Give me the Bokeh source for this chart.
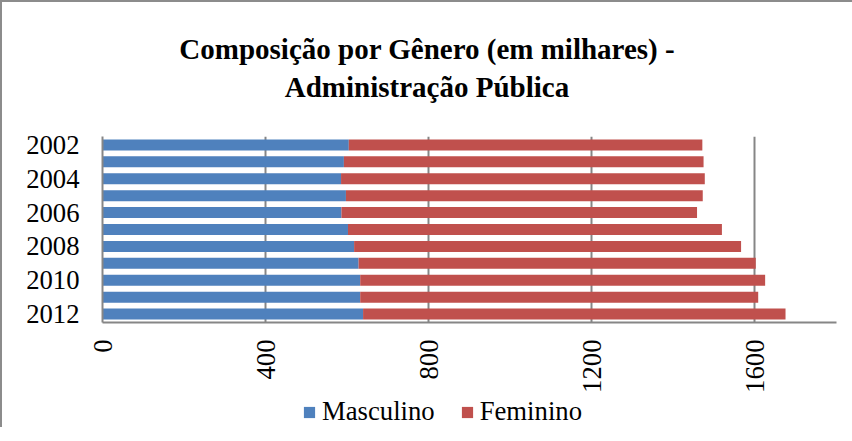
from bokeh.plotting import figure
from bokeh.models import (ColumnDataSource, Range1d, FixedTicker, Legend,
                          LegendItem, Div)
from bokeh.layouts import column
from bokeh.embed import file_html
from bokeh.resources import INLINE
import math

years = [2002, 2003, 2004, 2005, 2006, 2007, 2008, 2009, 2010, 2011, 2012]
masculino = [604, 592, 585, 597, 586, 602, 617, 628, 632, 632, 639]
feminino = [867, 882, 892, 875, 872, 917, 949, 974, 993, 976, 1036]
x_ticks = [0, 400, 800, 1200, 1600]
y_ticks = [2002, 2004, 2006, 2008, 2010, 2012]
series_names = ["Masculino", "Feminino"]
series_colors = ["#4F81BD", "#C0504D"]
title_lines = ["Composição por Gênero (em milhares) -", "Administração Pública"]

total = [m + f for m, f in zip(masculino, feminino)]
src = ColumnDataSource(dict(y=years, m=masculino, zero=[0] * len(years), t=total))

FONT = "Liberation Serif"
FS = "26.7px"
GRID = "#868686"
W = 840

title = Div(text="<br>".join(title_lines), width=W, height=102,
            styles={"text-align": "center", "font-family": FONT,
                    "font-weight": "bold", "font-size": "29px",
                    "line-height": "38px", "color": "black",
                    "padding-top": "23px", "box-sizing": "border-box",
                    "width": f"{W}px"})

p = figure(frame_width=734, frame_height=186, output_backend="svg",
           toolbar_location=None,
           x_range=Range1d(0, 1800), y_range=Range1d(2012.5, 2001.5),
           min_border_left=100, min_border_right=6, min_border_top=22,
           min_border_bottom=72)
p.outline_line_color = None

r1 = p.hbar(y="y", left="zero", right="m", height=0.65, source=src,
            fill_color=series_colors[0], line_color=None)
r2 = p.hbar(y="y", left="m", right="t", height=0.65, source=src,
            fill_color=series_colors[1], line_color=None)

p.xaxis.ticker = FixedTicker(ticks=x_ticks)
p.xaxis.major_label_orientation = math.pi / 2
p.xaxis.major_label_text_font = FONT
p.xaxis.major_label_text_font_size = FS
p.xaxis.major_label_text_color = "black"
p.xaxis.major_label_standoff = 17
p.xaxis.major_tick_out = 0
p.xaxis.major_tick_in = 0
p.xaxis.minor_tick_line_color = None
p.xaxis.axis_line_color = GRID
p.xaxis.axis_line_width = 2

p.yaxis.ticker = FixedTicker(ticks=y_ticks)
p.yaxis.major_label_text_font = FONT
p.yaxis.major_label_text_font_size = FS
p.yaxis.major_label_text_color = "black"
p.yaxis.major_label_standoff = 23
p.yaxis.major_tick_out = 0
p.yaxis.major_tick_in = 0
p.yaxis.minor_tick_line_color = None
p.yaxis.axis_line_color = GRID
p.yaxis.axis_line_width = 2

p.ygrid.grid_line_color = None
p.xgrid.ticker = FixedTicker(ticks=x_ticks[1:])
p.xgrid.grid_line_color = GRID
p.xgrid.grid_line_width = 2

# legend in its own strip
lg = figure(width=W, height=32, output_backend="svg", toolbar_location=None,
            x_range=Range1d(0, 1), y_range=Range1d(0, 1),
            x_axis_type=None, y_axis_type=None,
            min_border_left=0, min_border_right=0, min_border_top=0,
            min_border_bottom=0)
lg.outline_line_color = None
lg.grid.visible = False
items = []
for name, col in zip(series_names, series_colors):
    rr = lg.rect(x=[-5], y=[-5], width=1, height=1, fill_color=col,
                 line_color=None)
    items.append(LegendItem(label=name, renderers=[rr]))
legend = Legend(items=items, orientation="horizontal", location=(200, 0),
                label_text_font=FONT, label_text_font_size=FS,
                label_text_color="black", background_fill_alpha=0,
                glyph_width=14, glyph_height=14, spacing=25, padding=0,
                margin=0, border_line_color=None, label_standoff=6,
                label_height=28)
lg.add_layout(legend, "center")

layout = column(title, p, lg, spacing=0)
layout.styles = {"border-top": "2px solid #8c8c8c",
                 "border-left": "2px solid #8c8c8c"}

open("out.html", "w").write(file_html(layout, INLINE))
